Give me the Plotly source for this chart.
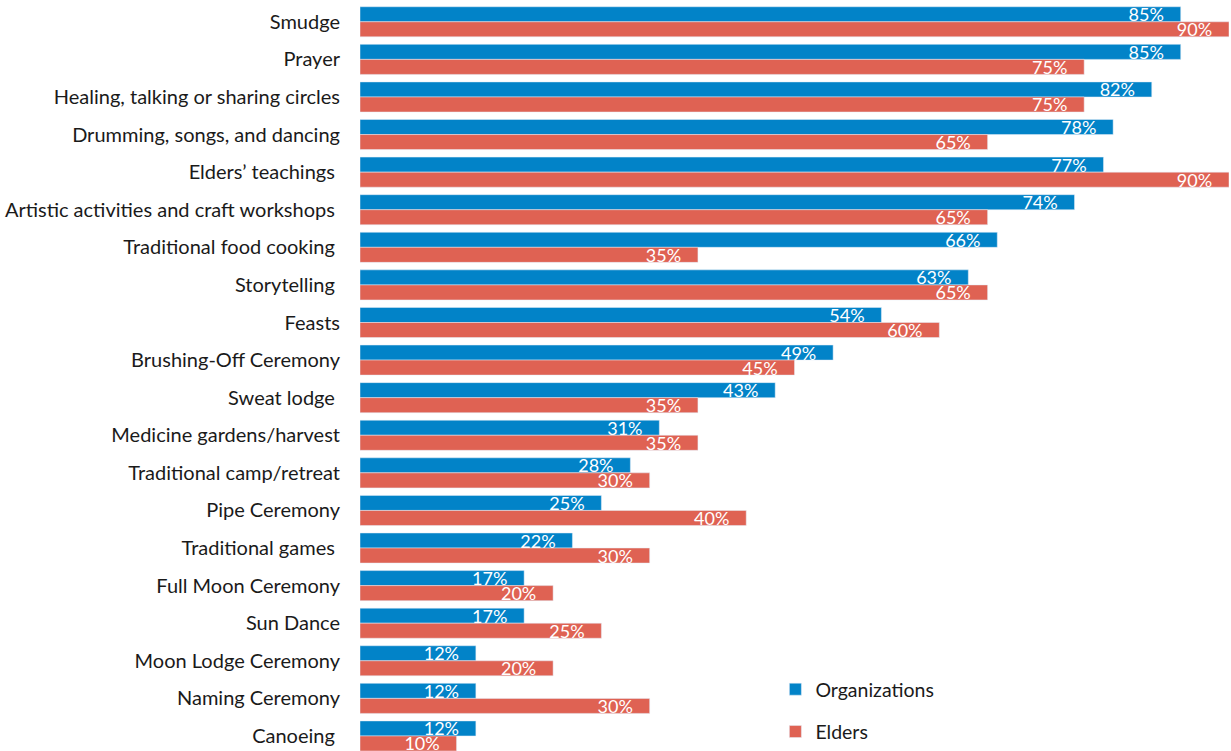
import plotly.graph_objects as go

NB = "\u00a0"
categories = [
    "Smudge", "Prayer", "Healing, talking or sharing circles",
    "Drumming, songs, and dancing", "Elders\u2019 teachings" + NB,
    "Artistic activities and craft workshops" + NB, "Traditional food cooking" + NB,
    "Storytelling" + NB, "Feasts", "Brushing-Off Ceremony", "Sweat lodge" + NB,
    "Medicine gardens/harvest", "Traditional camp/retreat", "Pipe Ceremony",
    "Traditional games" + NB, "Full Moon Ceremony", "Sun Dance",
    "Moon Lodge Ceremony", "Naming Ceremony", "Canoeing" + NB,
]
organizations = [85, 85, 82, 78, 77, 74, 66, 63, 54, 49, 43, 31, 28, 25, 22, 17, 17, 12, 12, 12]
elders = [90, 75, 75, 65, 90, 65, 35, 65, 60, 45, 35, 35, 30, 40, 30, 20, 25, 20, 30, 10]

FONT = "Lato"
BLUE = "#0283C8"
RED = "#DF6253"
TXT = "#1a1a1a"

fig = go.Figure()
fig.add_trace(go.Bar(
    name="Organizations", y=categories, x=organizations, orientation="h",
    marker_color=BLUE, texttemplate="%{x}%" + NB * 3, textposition="inside",
    insidetextanchor="end", textfont=dict(color="white", size=18, family=FONT),
    legendgroup="a",
))
fig.add_trace(go.Bar(
    name="Elders", y=categories, x=elders, orientation="h",
    marker_color=RED, texttemplate="%{x}%" + NB * 3, textposition="inside",
    insidetextanchor="end", textfont=dict(color="white", size=18, family=FONT),
    legendgroup="b",
))

fig.update_layout(
    width=1231, height=751,
    margin=dict(l=360, r=2, t=3, b=0, autoexpand=False),
    barmode="group", bargap=0.2, bargroupgap=0,
    plot_bgcolor="white", paper_bgcolor="white",
    font=dict(family=FONT, size=20, color=TXT),
    uniformtext=dict(minsize=18, mode="show"),
    xaxis=dict(range=[0, 90], showgrid=False, zeroline=False, showticklabels=False,
               showline=False, fixedrange=True, automargin=False),
    yaxis=dict(type="category", range=[19.4, -0.5], showgrid=False, showline=False,
               automargin=False, ticks="", ticklabelstandoff=19,
               tickfont=dict(size=20, family=FONT, color=TXT)),
    legend=dict(x=0.478, xanchor="left", y=0.0, yanchor="bottom", tracegroupgap=14,
                font=dict(size=19.5, family=FONT, color=TXT), bgcolor="rgba(0,0,0,0)"),
    showlegend=True,
)

fig.write_html(
    "out.html",
    config={"displayModeBar": False},
    post_script="document.body.style.margin='0';document.body.style.overflow='hidden';",
)
